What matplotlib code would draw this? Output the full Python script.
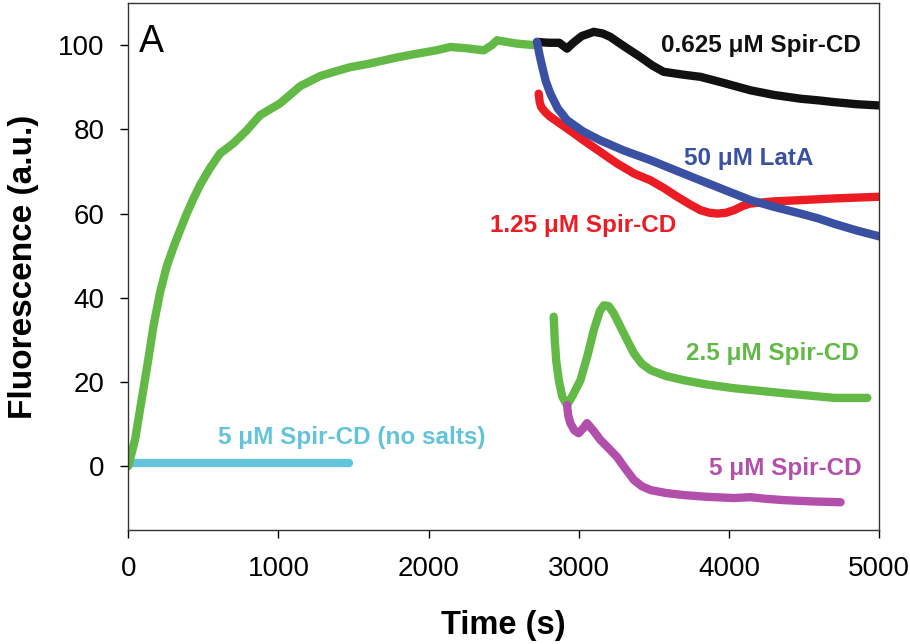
import numpy as np
import matplotlib
matplotlib.use("Agg")
import matplotlib.pyplot as plt

plt.rcParams['font.family'] = ['Liberation Sans', 'DejaVu Sans']

# ---- polymerization trace (pyrene actin) ----
t_poly = [0, 45, 89, 133, 167, 211, 256, 311, 389, 433, 478, 540, 611, 700,
          789, 878, 1011, 1145, 1278, 1389, 1478, 1600, 1700, 1800, 1922, 2050,
          2145, 2250, 2367, 2420, 2456, 2520, 2589, 2650, 2722]
f_poly = [0, 6.3, 15.8, 25.3, 33.2, 41.2, 47.5, 53, 60, 63.5, 66.8, 70.6, 74.3, 76.7,
          79.8, 83.4, 86.2, 90.3, 92.7, 93.9, 94.8, 95.6, 96.4, 97.2, 98, 98.8,
          99.6, 99.3, 98.8, 100, 101.2, 100.8, 100.4, 100.2, 100]

# ---- no salt control ----
t_nosalt = [0, 300, 600, 900, 1200, 1467]
f_nosalt = [0.8, 0.8, 0.8, 0.8, 0.8, 0.8]

# ---- 0.625 uM Spir-CD ----
t_s0625 = [2722, 2800, 2870, 2922, 2960, 3020, 3100, 3160, 3210, 3300, 3411, 3490, 3565,
           3700, 3811, 3950, 4144, 4300, 4478, 4600, 4700, 4850, 5000]
f_s0625 = [100.8, 100.6, 100.6, 99.2, 100.5, 102.2, 103.2, 102.8, 102, 99.8, 97.2, 95.2, 93.7,
           93.0, 92.5, 91.2, 89.3, 88.2, 87.3, 86.9, 86.5, 86.0, 85.7]

# ---- 50 uM LatA ----
t_lata = [2722, 2740, 2756, 2780, 2811, 2860, 2922, 3030, 3144, 3300, 3478, 3650, 3811,
          3980, 4144, 4300, 4478, 4600, 4700, 4850, 5000]
f_lata = [100.8, 97.5, 95, 91.5, 88.5, 85, 82.2, 79.5, 77.4, 75, 72.7, 70.2, 67.9,
          65.5, 63.2, 61.6, 60, 58.8, 57.6, 56, 54.6]

# ---- 1.25 uM Spir-CD ----
t_s125 = [2733, 2740, 2750, 2780, 2811, 2920, 3033, 3150, 3256, 3370, 3478, 3570, 3656,
          3740, 3811, 3870, 3922, 3980, 4033, 4090, 4144, 4300, 4478, 4700, 5000]
f_s125 = [88.5, 86.5, 85.3, 84, 83, 80.3, 77.4, 74.5, 71.9, 69.5, 67.9, 66, 64,
          62.2, 60.8, 60.2, 60, 60.2, 60.8, 61.8, 62.4, 62.9, 63.2, 63.6, 64]

# ---- 2.5 uM Spir-CD ----
t_s25 = [2833, 2840, 2850, 2867, 2890, 2922, 2960, 3011, 3060, 3100, 3140, 3167, 3200,
         3233, 3300, 3367, 3420, 3478, 3580, 3700, 3850, 4033, 4200, 4367, 4550, 4700, 4922]
f_s25 = [35.5, 30, 25, 20.4, 16.5, 14.5, 16.8, 20.4, 26.5, 32.3, 36.8, 38.2, 38,
         36.3, 31.5, 26.8, 24.3, 22.8, 21.4, 20.4, 19.4, 18.5, 17.9, 17.3, 16.7, 16.2, 16.2]

# ---- 5 uM Spir-CD ----
t_s5 = [2922, 2930, 2944, 2970, 2999, 3030, 3055, 3100, 3144, 3200, 3256, 3310, 3367,
        3420, 3478, 3580, 3700, 3850, 4033, 4144, 4250, 4367, 4550, 4744]
f_s5 = [14.5, 12, 10.2, 8.5, 7.8, 9, 10.2, 8.3, 6.2, 4.2, 2.1, -0.6, -3.3,
        -4.8, -5.7, -6.4, -6.9, -7.3, -7.6, -7.4, -7.8, -8.1, -8.4, -8.6]

green = '#62b946'
black = '#111111'
blue = '#3a50a3'
red = '#ec1c24'
magenta = '#b24fab'
cyan = '#62c3da'

fig = plt.figure(figsize=(9.1, 6.44), dpi=100)
ax = fig.add_axes([0.141, 0.177, 0.825, 0.818])

lw = 6
kw = dict(lw=lw, solid_capstyle='round', solid_joinstyle='round')
ax.plot(t_nosalt, f_nosalt, color=cyan, **kw)
ax.plot(t_poly, f_poly, color=green, **kw)
ax.plot(t_s0625, f_s0625, color=black, **kw)
ax.plot(t_s125, f_s125, color=red, **kw)
ax.plot(t_lata, f_lata, color=blue, **kw)
ax.plot(t_s25, f_s25, color=green, **kw)
ax.plot(t_s5, f_s5, color=magenta, **kw)

# curve labels
lab = dict(fontsize=17.5, fontweight='bold', ha='center', va='center')
ax.text(4211, 100, '0.625 \u03bcM Spir-CD', color=black, **lab)
ax.text(4135, 73, '50 \u03bcM LatA', color=blue, **lab)
ax.text(3028, 57.2, '1.25 \u03bcM Spir-CD', color=red, **lab)
ax.text(4291, 26.8, '2.5 \u03bcM Spir-CD', color=green, **lab)
ax.text(4378, -0.5, '5 \u03bcM Spir-CD', color=magenta, **lab)
ax.text(1491, 6.9, '5 \u03bcM Spir-CD (no salts)', color=cyan, **lab)

ax.text(70, 98.3, 'A', fontsize=27, va='baseline', ha='left')

ax.set_xlim(0, 5000)
ax.set_ylim(-15.2, 110)
ax.set_xticks([0, 1000, 2000, 3000, 4000, 5000])
ax.set_yticks([0, 20, 40, 60, 80, 100])
ax.tick_params(direction='out', length=6, width=1, labelsize=20,
               top=False, right=False)
ax.tick_params(axis='x', pad=13)
ax.tick_params(axis='y', pad=11)
for s in ax.spines.values():
    s.set_linewidth(1)
    s.set_color('#333333')

ax.set_xlabel('Time (s)', fontsize=23.5, fontweight='bold', labelpad=20)
ax.set_ylabel('Fluorescence (a.u.)', fontsize=24, fontweight='bold', labelpad=14)

fig.savefig('out.png', dpi=100)
